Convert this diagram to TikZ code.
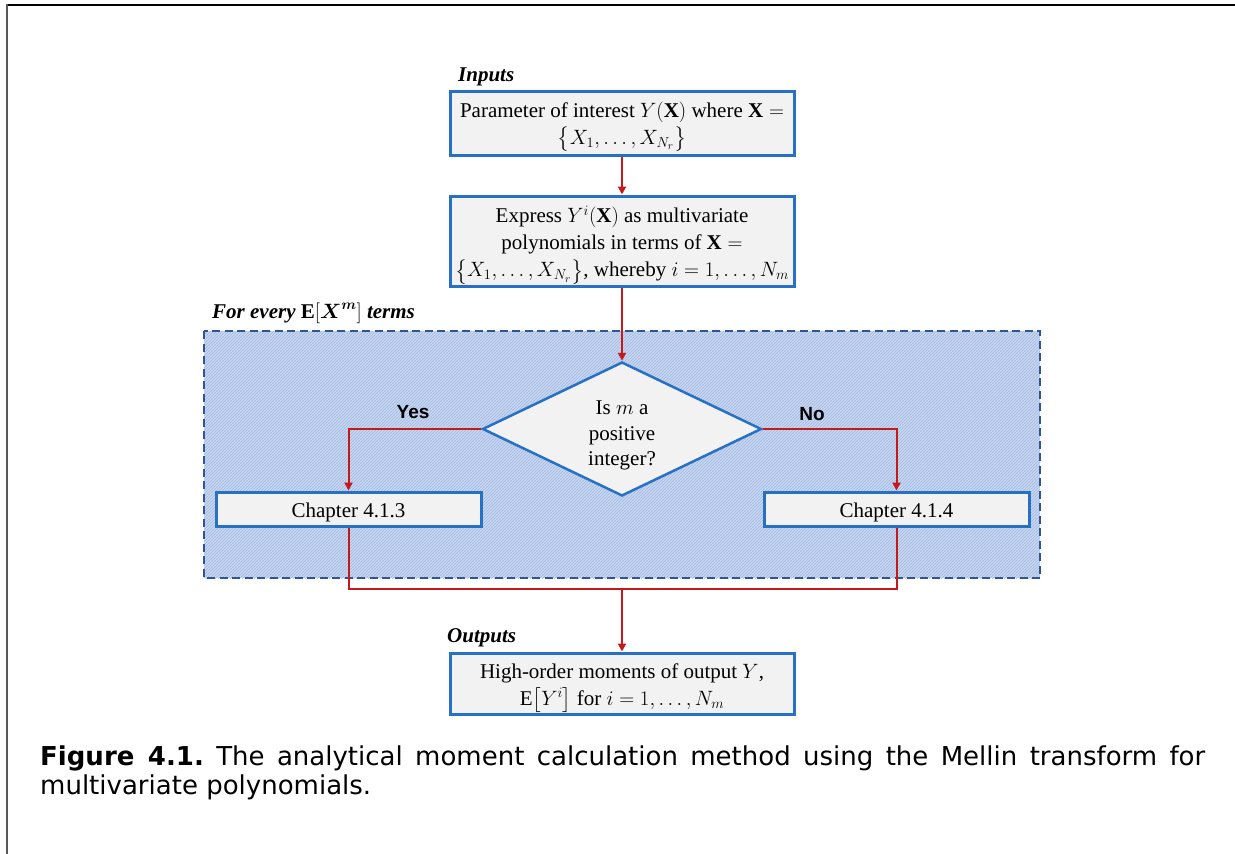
\documentclass[tikz,border=0pt]{standalone}
\usepackage{amsmath}
\usepackage{fontspec}
\setmainfont{Liberation Serif}
\newfontfamily\capfont{DejaVu Sans}
\newfontfamily\lblfont{Liberation Sans}
\usetikzlibrary{arrows.meta,shapes.geometric,patterns}

\definecolor{boxblue}{HTML}{2670C6}
\definecolor{boxfill}{HTML}{F2F2F2}
\definecolor{flowred}{HTML}{C41A1A}
\definecolor{regionedge}{HTML}{2F5597}
\definecolor{hatchbase}{HTML}{C8D7F1}
\definecolor{hatchline}{HTML}{A0B8E2}

% pushes the text block of a box down a little
\newcommand{\topstrut}[1]{\rule{0pt}{#1}}

\begin{document}
\begin{tikzpicture}[x=1pt,y=-1pt,
  stepbox/.style={draw=boxblue, line width=3pt, fill=boxfill, align=center,
    inner sep=0pt, font=\fontsize{21}{27}\selectfont},
  decision/.style={diamond, draw=boxblue, line width=2.5pt, fill=boxfill,
    minimum width=279pt, minimum height=134pt, aspect=2.08, inner sep=0pt,
    align=center, font=\fontsize{21}{25.5}\selectfont},
  heading/.style={inner sep=0pt, anchor=west,
    font=\fontsize{21}{25}\selectfont\bfseries\itshape},
  branch/.style={inner sep=0pt, font=\lblfont\bfseries\fontsize{19}{22}\selectfont},
  link/.style={draw=flowred, line width=2pt},
  flow/.style={link, -{Triangle[length=8pt,width=8pt]}},
  region/.style={draw=regionedge, line width=2.5pt, dash pattern=on 8pt off 4.5pt}
]
\useasboundingbox (0,0) rectangle (1235,854);

% page frame
\draw[black, line width=2pt] (7,5) -- (1235,5);
\draw[gray!70!black, line width=2.5pt] (7,4) -- (7,854);

% hatched loop region
\path[fill=hatchbase] (204,331) rectangle (1040,578);
\path[pattern=north east lines, pattern color=hatchline] (204,331) rectangle (1040,578);
\draw[region] (204,331) rectangle (1040,578);

% headings
\node[heading] (inlab) at (458,77) {Inputs};
\node[heading] (looplab) at (212,313) {For every $\mathbf{E}[\boldsymbol{X}^{\boldsymbol{m}}]$ terms};
\node[heading] (outlab) at (447,638) {Outputs};

% steps
\node[stepbox, minimum width=344pt, minimum height=64pt] (inp) at (622,123)
  {\topstrut{23pt}Parameter of interest $Y(\mathbf{X})$ where $\mathbf{X} =$\\
   $\big\{X_1, \ldots, X_{N_r}\big\}$};
\node[stepbox, minimum width=344pt, minimum height=90pt] (expr) at (622,241)
  {\topstrut{25pt}Express $Y^{i}(\mathbf{X})$ as multivariate\\
   polynomials in terms of $\mathbf{X} =$\\
   $\big\{X_1, \ldots, X_{N_r}\big\}$, whereby $i = 1, \ldots, N_m$};
\node[decision] (q) at (622,429) {\topstrut{27pt}Is $m$ a\\ positive\\ integer?};
\node[stepbox, minimum width=265pt, minimum height=34pt] (c3) at (348.5,509) {\topstrut{21pt}Chapter 4.1.3};
\node[stepbox, minimum width=265pt, minimum height=34pt] (c4) at (896.5,509) {\topstrut{21pt}Chapter 4.1.4};
\node[stepbox, minimum width=344pt, minimum height=61pt] (out) at (622,683.5)
  {\topstrut{24pt}High-order moments of output $Y$,\\
   $\mathrm{E}\big[Y^{i}\big]$ for $i = 1, \ldots, N_m$};

% branch labels
\node[branch] (yes) at (413,412) {Yes};
\node[branch] (no) at (812,414) {No};

% connectors
\draw[flow] (inp.south) -- (expr.north);
\draw[flow] (expr.south) -- (q.north);
\draw[flow] (q.west) -| (c3.north);
\draw[flow] (q.east) -| (c4.north);
\coordinate (join) at (622,589);
\draw[link] (c3.south) |- (join) -| (c4.south);
\draw[flow] (join) -- (out.north);

% caption
\node[anchor=base west, inner sep=0pt, font=\capfont\fontsize{26}{30}\selectfont\frenchspacing] (cap1) at (40,765)
  {\makebox[1165pt][s]{\textbf{Figure 4.1.} The analytical moment calculation method using the Mellin transform for}};
\node[anchor=base west, inner sep=0pt, font=\capfont\fontsize{26}{30}\selectfont] (cap2) at (40,794)
  {multivariate polynomials.};
\end{tikzpicture}
\end{document}
